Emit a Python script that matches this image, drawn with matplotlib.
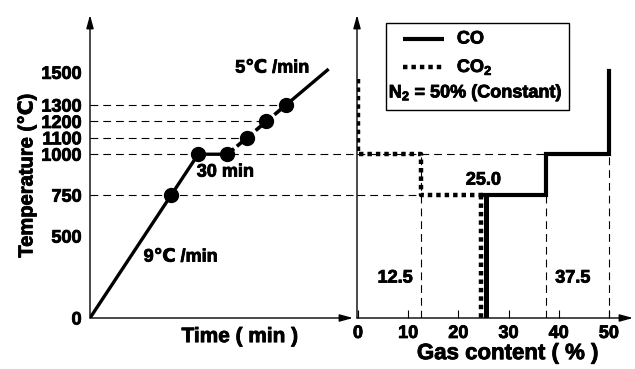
import matplotlib
matplotlib.use('Agg')
import matplotlib.pyplot as plt
from matplotlib.patches import Rectangle
from matplotlib.lines import Line2D
from matplotlib.text import Text
import matplotlib.patheffects as pe
import matplotlib.transforms as mtransforms

plt.rcParams['font.family'] = ['Liberation Sans', 'DejaVu Sans']
plt.rcParams['font.weight'] = 'bold'
plt.rcParams['mathtext.fontset'] = 'custom'
plt.rcParams['mathtext.rm'] = 'Liberation Sans:bold'
plt.rcParams['mathtext.default'] = 'rm'

# heating schedule
time_min = [0, 83.3, 111.1, 141.1, 161.1, 181.1, 201.1, 245]
temp_c = [0, 750, 1000, 1000, 1100, 1200, 1300, 1520]
hold_idx = [1, 2, 3, 4, 5, 6]          # sampled points
temp_ticks = [0, 500, 750, 1000, 1100, 1200, 1300, 1500]

# gas composition steps (N2 fixed at 50 %)
co_pct = [25, 25, 37.5, 37.5, 50, 50]
co_temp = [0, 750, 750, 1000, 1000, 1510]
co2_pct = [0, 0, 12.5, 12.5, 25, 25]
co2_temp = [1460, 1000, 1000, 750, 750, 0]
pct_ticks = [0, 10, 20, 30, 40, 50]
step_labels = [12.5, 25.0, 37.5]

W, H = 635, 369
fig = plt.figure(figsize=(W / 100, H / 100), dpi=100)
ax1 = fig.add_axes([90 / W, 51 / H, 263 / W, 303 / H])
ax2 = fig.add_axes([357 / W, 51 / H, 276 / W, 303 / H])

ymax = 1850
dash = (0, (7, 4.5))
dotted = (0, (1, 0.9))
fs = 13

for ax in (ax1, ax2):
    ax.set_ylim(0, ymax)
    for s in ax.spines.values():
        s.set_visible(False)
    # axes drawn as arrows
    ax.annotate('', xy=(0, 1), xytext=(0, 0), xycoords='axes fraction',
                arrowprops=dict(arrowstyle='-|>,head_length=0.8,head_width=0.22',
                                color='k', lw=1.0, shrinkA=0, shrinkB=0))
    ax.annotate('', xy=(1, 0), xytext=(0, 0), xycoords='axes fraction',
                arrowprops=dict(arrowstyle='-|>,head_length=0.8,head_width=0.22',
                                color='k', lw=1.0, shrinkA=0, shrinkB=0))

# left: temperature vs time
ax1.set_xlim(0, 270)
ax1.set_xticks([])
ax1.set_yticks(temp_ticks)
ax1.set_yticklabels([str(t) for t in temp_ticks], fontsize=fs, fontweight='bold')
ax1.tick_params(axis='y', length=0, pad=6)

for i in (4, 5, 6):
    ax1.plot([0, time_min[i]], [temp_c[i]] * 2, color='k', lw=0.8, ls=dash)
for t in (750, 1000):
    ax1.plot([0, 270], [t, t], color='k', lw=0.8, ls=dash, clip_on=False)

ax1.plot(time_min[:4], temp_c[:4], color='k', lw=2.4, solid_capstyle='butt')
ax1.plot(time_min[3:7], temp_c[3:7], color='k', lw=2.6, ls=(0, (2.4, 1.0)))
ax1.plot(time_min[6:], temp_c[6:], color='k', lw=2.4, solid_capstyle='butt')
ax1.plot([time_min[i] for i in hold_idx], [temp_c[i] for i in hold_idx],
         'o', color='k', ms=10)

ax1.text(187, 1526, '5℃ /min', fontsize=fs, fontweight='bold', ha='center', va='center')
ax1.text(139, 891, '30 min', fontsize=fs, fontweight='bold', ha='center', va='center')
ax1.text(93, 372, '9℃ /min', fontsize=fs, fontweight='bold', ha='center', va='center')

ax1.set_xlabel('Time ( min )', fontsize=15, fontweight='bold', va='top')
ax1.xaxis.set_label_coords(0.57, -0.03)
ax1.set_ylabel('Temperature (℃)', fontsize=14.5, fontweight='bold', va='center')
ax1.yaxis.set_label_coords(-0.24, 0.47)

# right: gas content vs temperature
ax2.set_xlim(-0.2, 54.8)
ax2.set_yticks([])
ax2.set_xticks(pct_ticks)
ax2.set_xticklabels([str(p) for p in pct_ticks], fontsize=fs, fontweight='bold')
ax2.tick_params(axis='x', direction='in', length=6, width=0.8, pad=5)

ax2.plot([-0.2, 12.5], [750, 750], color='k', lw=0.8, ls=dash)
ax2.plot([-0.2, 37.5], [1000, 1000], color='k', lw=0.8, ls=dash)
ax2.plot([12.5, 12.5], [0, 1000], color='k', lw=0.8, ls=dash)
ax2.plot([37.5, 37.5], [0, 750], color='k', lw=0.8, ls=dash)
ax2.plot([50, 50], [0, 1000], color='k', lw=0.8, ls=dash)

# the two lines at 25 % sit side by side
shift_r = mtransforms.offset_copy(ax2.transData, fig=fig, x=2.5, y=0, units='dots')
shift_l = mtransforms.offset_copy(ax2.transData, fig=fig, x=-2.5, y=0, units='dots')
ax2.plot(co_pct[:2], co_temp[:2], color='k', lw=3.6, solid_capstyle='butt',
         transform=shift_r)
ax2.plot(co_pct[1:], co_temp[1:], color='k', lw=3.0, solid_joinstyle='miter')
ax2.plot(co2_pct[:5], co2_temp[:5], color='k', lw=3.2, ls=dotted,
         dash_capstyle='butt')
ax2.plot(co2_pct[4:], co2_temp[4:], color='k', lw=3.2, ls=dotted,
         dash_capstyle='butt', transform=shift_l)

ax2.text(step_labels[0] - 5.1, 244, f'{step_labels[0]:.1f}', fontsize=fs,
         fontweight='bold', ha='center', va='center')
ax2.text(step_labels[1], 842, f'{step_labels[1]:.1f}', fontsize=fs,
         fontweight='bold', ha='center', va='center')
ax2.text(step_labels[2] + 5.3, 244, f'{step_labels[2]:.1f}', fontsize=fs,
         fontweight='bold', ha='center', va='center')

ax2.set_xlabel('Gas content ( % )', fontsize=16, fontweight='bold', va='top')
ax2.xaxis.set_label_coords(0.545, -0.083)

# key box
bx0, bx1 = (386 - 357) / 276, (569 - 357) / 276
by0, by1 = (318 - 110) / 303, (318 - 23) / 303
ax2.add_patch(Rectangle((bx0, by0), bx1 - bx0, by1 - by0, transform=ax2.transAxes,
                        fill=False, ec='k', lw=1.0, clip_on=False))
y_co, y_co2, y_n2 = (318 - 39) / 303, (318 - 67) / 303, (318 - 93) / 303
ax2.add_line(Line2D([0.167, 0.317], [y_co, y_co], transform=ax2.transAxes,
                    color='k', lw=3.0, solid_capstyle='butt'))
ax2.add_line(Line2D([0.167, 0.317], [y_co2, y_co2], transform=ax2.transAxes,
                    color='k', lw=3.2, ls=dotted, dash_capstyle='butt'))
ax2.text(0.362, y_co, 'CO', transform=ax2.transAxes, fontsize=fs,
         fontweight='bold', va='center')
ax2.text(0.362, y_co2, 'CO$_2$', transform=ax2.transAxes, fontsize=fs,
         fontweight='bold', va='center')
ax2.text(bx0 + 0.01, y_n2, 'N$_2$ = 50% (Constant)', transform=ax2.transAxes,
         fontsize=fs, fontweight='bold', va='center')

# heavier strokes on all lettering
for t in fig.findobj(Text):
    t.set_path_effects([pe.withStroke(linewidth=0.6, foreground='k')])

fig.savefig('out.png', dpi=100)
